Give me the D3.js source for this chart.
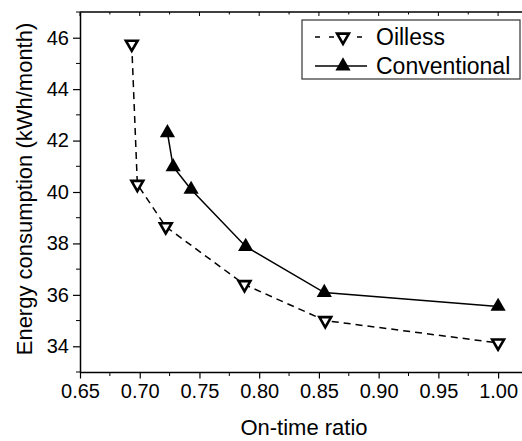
<!DOCTYPE html>
<html>
<head>
<meta charset="utf-8">
<script src="https://cdn.jsdelivr.net/npm/d3@7"></script>
<style>
  body { margin: 0; background: #fff; }
  svg { display: block; font-family: "Liberation Sans", Arial, sans-serif; }
</style>
</head>
<body>
<div id="chart"></div>
<script>
// Data
const oillessX = [0.6933, 0.698, 0.7218, 0.7877, 0.8553, 1.0];
const oillessY = [45.75, 40.3, 38.65, 36.4, 35.0, 34.13];
const convX = [0.7232, 0.728, 0.743, 0.7887, 0.8545, 1.0];
const convY = [42.3, 40.98, 40.1, 37.88, 36.09, 35.55];
const xTicks = [0.65, 0.70, 0.75, 0.80, 0.85, 0.90, 0.95, 1.00];
const yTicks = [34, 36, 38, 40, 42, 44, 46];

const W = 522, H = 441;
const margin = { top: 12, right: 0, bottom: 69, left: 80 };

const svg = d3.select("#chart").append("svg")
    .attr("width", W)
    .attr("height", H);

const x = d3.scaleLinear().domain([0.65, 1.02]).range([margin.left, W - margin.right]);
const y = d3.scaleLinear().domain([33, 47]).range([H - margin.bottom, margin.top]);

// minor ticks
const xMinor = d3.range(0.675, 1.02, 0.05);
const yMinor = d3.range(33, 47.5, 2);

// axes
const xAxis = svg.append("g")
    .attr("transform", `translate(0,${y(33)})`)
    .call(d3.axisBottom(x).tickValues(xTicks).tickFormat(d3.format(".2f")).tickSize(6.5).tickPadding(5).tickSizeOuter(0));
xAxis.selectAll("text").style("font-size", "20px").attr("fill", "#000");

xAxis.selectAll(".minor").data(xMinor).enter().append("line")
    .attr("x1", d => x(d)).attr("x2", d => x(d))
    .attr("y1", 0).attr("y2", 4)
    .attr("stroke", "#000");

const yAxis = svg.append("g")
    .attr("transform", `translate(${x(0.65)},0)`)
    .call(d3.axisLeft(y).tickValues(yTicks).tickSize(7).tickPadding(4).tickSizeOuter(0));
yAxis.selectAll("text").style("font-size", "20px").attr("fill", "#000");

yAxis.selectAll(".minor").data(yMinor).enter().append("line")
    .attr("x1", 0).attr("x2", -4)
    .attr("y1", d => y(d)).attr("y2", d => y(d))
    .attr("stroke", "#000");

svg.selectAll(".domain").attr("stroke-width", 1.5);
svg.selectAll(".tick line").attr("stroke-width", 1.2);

// top frame with inward ticks
const topFrame = svg.append("g");
topFrame.append("line")
    .attr("x1", x(0.65)).attr("x2", W)
    .attr("y1", y(47)).attr("y2", y(47))
    .attr("stroke", "#000").attr("stroke-width", 1.5);
topFrame.selectAll(".tt").data(xTicks.concat(xMinor)).enter().append("line")
    .attr("x1", d => x(d)).attr("x2", d => x(d))
    .attr("y1", y(47)).attr("y2", d => y(47) + (xTicks.includes(d) ? 4 : 2.5))
    .attr("stroke", "#000");

// axis titles
svg.append("text")
    .attr("x", (x(0.65) + W) / 2 + 3)
    .attr("y", 435)
    .attr("text-anchor", "middle")
    .style("font-size", "22px")
    .text("On-time ratio");

svg.append("text")
    .attr("transform", `translate(32,${(y(33) + y(47)) / 2 - 3}) rotate(-90)`)
    .attr("text-anchor", "middle")
    .style("font-size", "22px")
    .text("Energy consumption (kWh/month)");

// lines
const oilless = oillessX.map((d, i) => [d, oillessY[i]]);
const conv = convX.map((d, i) => [d, convY[i]]);
const line = d3.line().x(d => x(d[0])).y(d => y(d[1]));

svg.append("path")
    .attr("d", line(oilless))
    .attr("fill", "none")
    .attr("stroke", "#000")
    .attr("stroke-width", 1.5)
    .attr("stroke-dasharray", "7,5");

svg.append("path")
    .attr("d", line(conv))
    .attr("fill", "none")
    .attr("stroke", "#000")
    .attr("stroke-width", 1.5);

// markers
const triUp = d3.symbol(d3.symbolTriangle, 100);
const triDown = d3.symbol(d3.symbolTriangle, 60);

svg.selectAll(".conv").data(conv).enter().append("path")
    .attr("d", triUp)
    .attr("transform", d => `translate(${x(d[0])},${y(d[1])})`)
    .attr("fill", "#000");

svg.selectAll(".oil").data(oilless).enter().append("path")
    .attr("d", triDown)
    .attr("transform", d => `translate(${x(d[0])},${y(d[1])}) rotate(180)`)
    .attr("fill", "#fff")
    .attr("stroke", "#000")
    .attr("stroke-width", 2.6)
    .attr("stroke-linejoin", "miter");

// legend
const lg = svg.append("g");
lg.append("rect")
    .attr("x", 302).attr("y", 20)
    .attr("width", 218).attr("height", 59)
    .attr("fill", "#fff")
    .attr("stroke", "#333")
    .attr("stroke-width", 1.2);

const legendRows = [
    { label: "Oilless", dash: "7,5", yy: 37, down: true },
    { label: "Conventional", dash: null, yy: 66, down: false }
];
legendRows.forEach(r => {
    lg.append("line")
        .attr("x1", 315).attr("x2", 367)
        .attr("y1", r.yy).attr("y2", r.yy)
        .attr("stroke", "#000")
        .attr("stroke-width", 1.5)
        .attr("stroke-dasharray", r.dash ? "5,9" : null);
    const m = lg.append("path")
        .attr("d", r.down ? triDown : triUp)
        .attr("transform", `translate(343,${r.yy})` + (r.down ? " rotate(180)" : ""));
    if (r.down) {
        m.attr("fill", "#fff").attr("stroke", "#000").attr("stroke-width", 2.6);
    } else {
        m.attr("fill", "#000");
    }
    lg.append("text")
        .attr("x", 376).attr("y", r.yy + 8)
        .style("font-size", "23px")
        .text(r.label);
});
</script>
</body>
</html>
